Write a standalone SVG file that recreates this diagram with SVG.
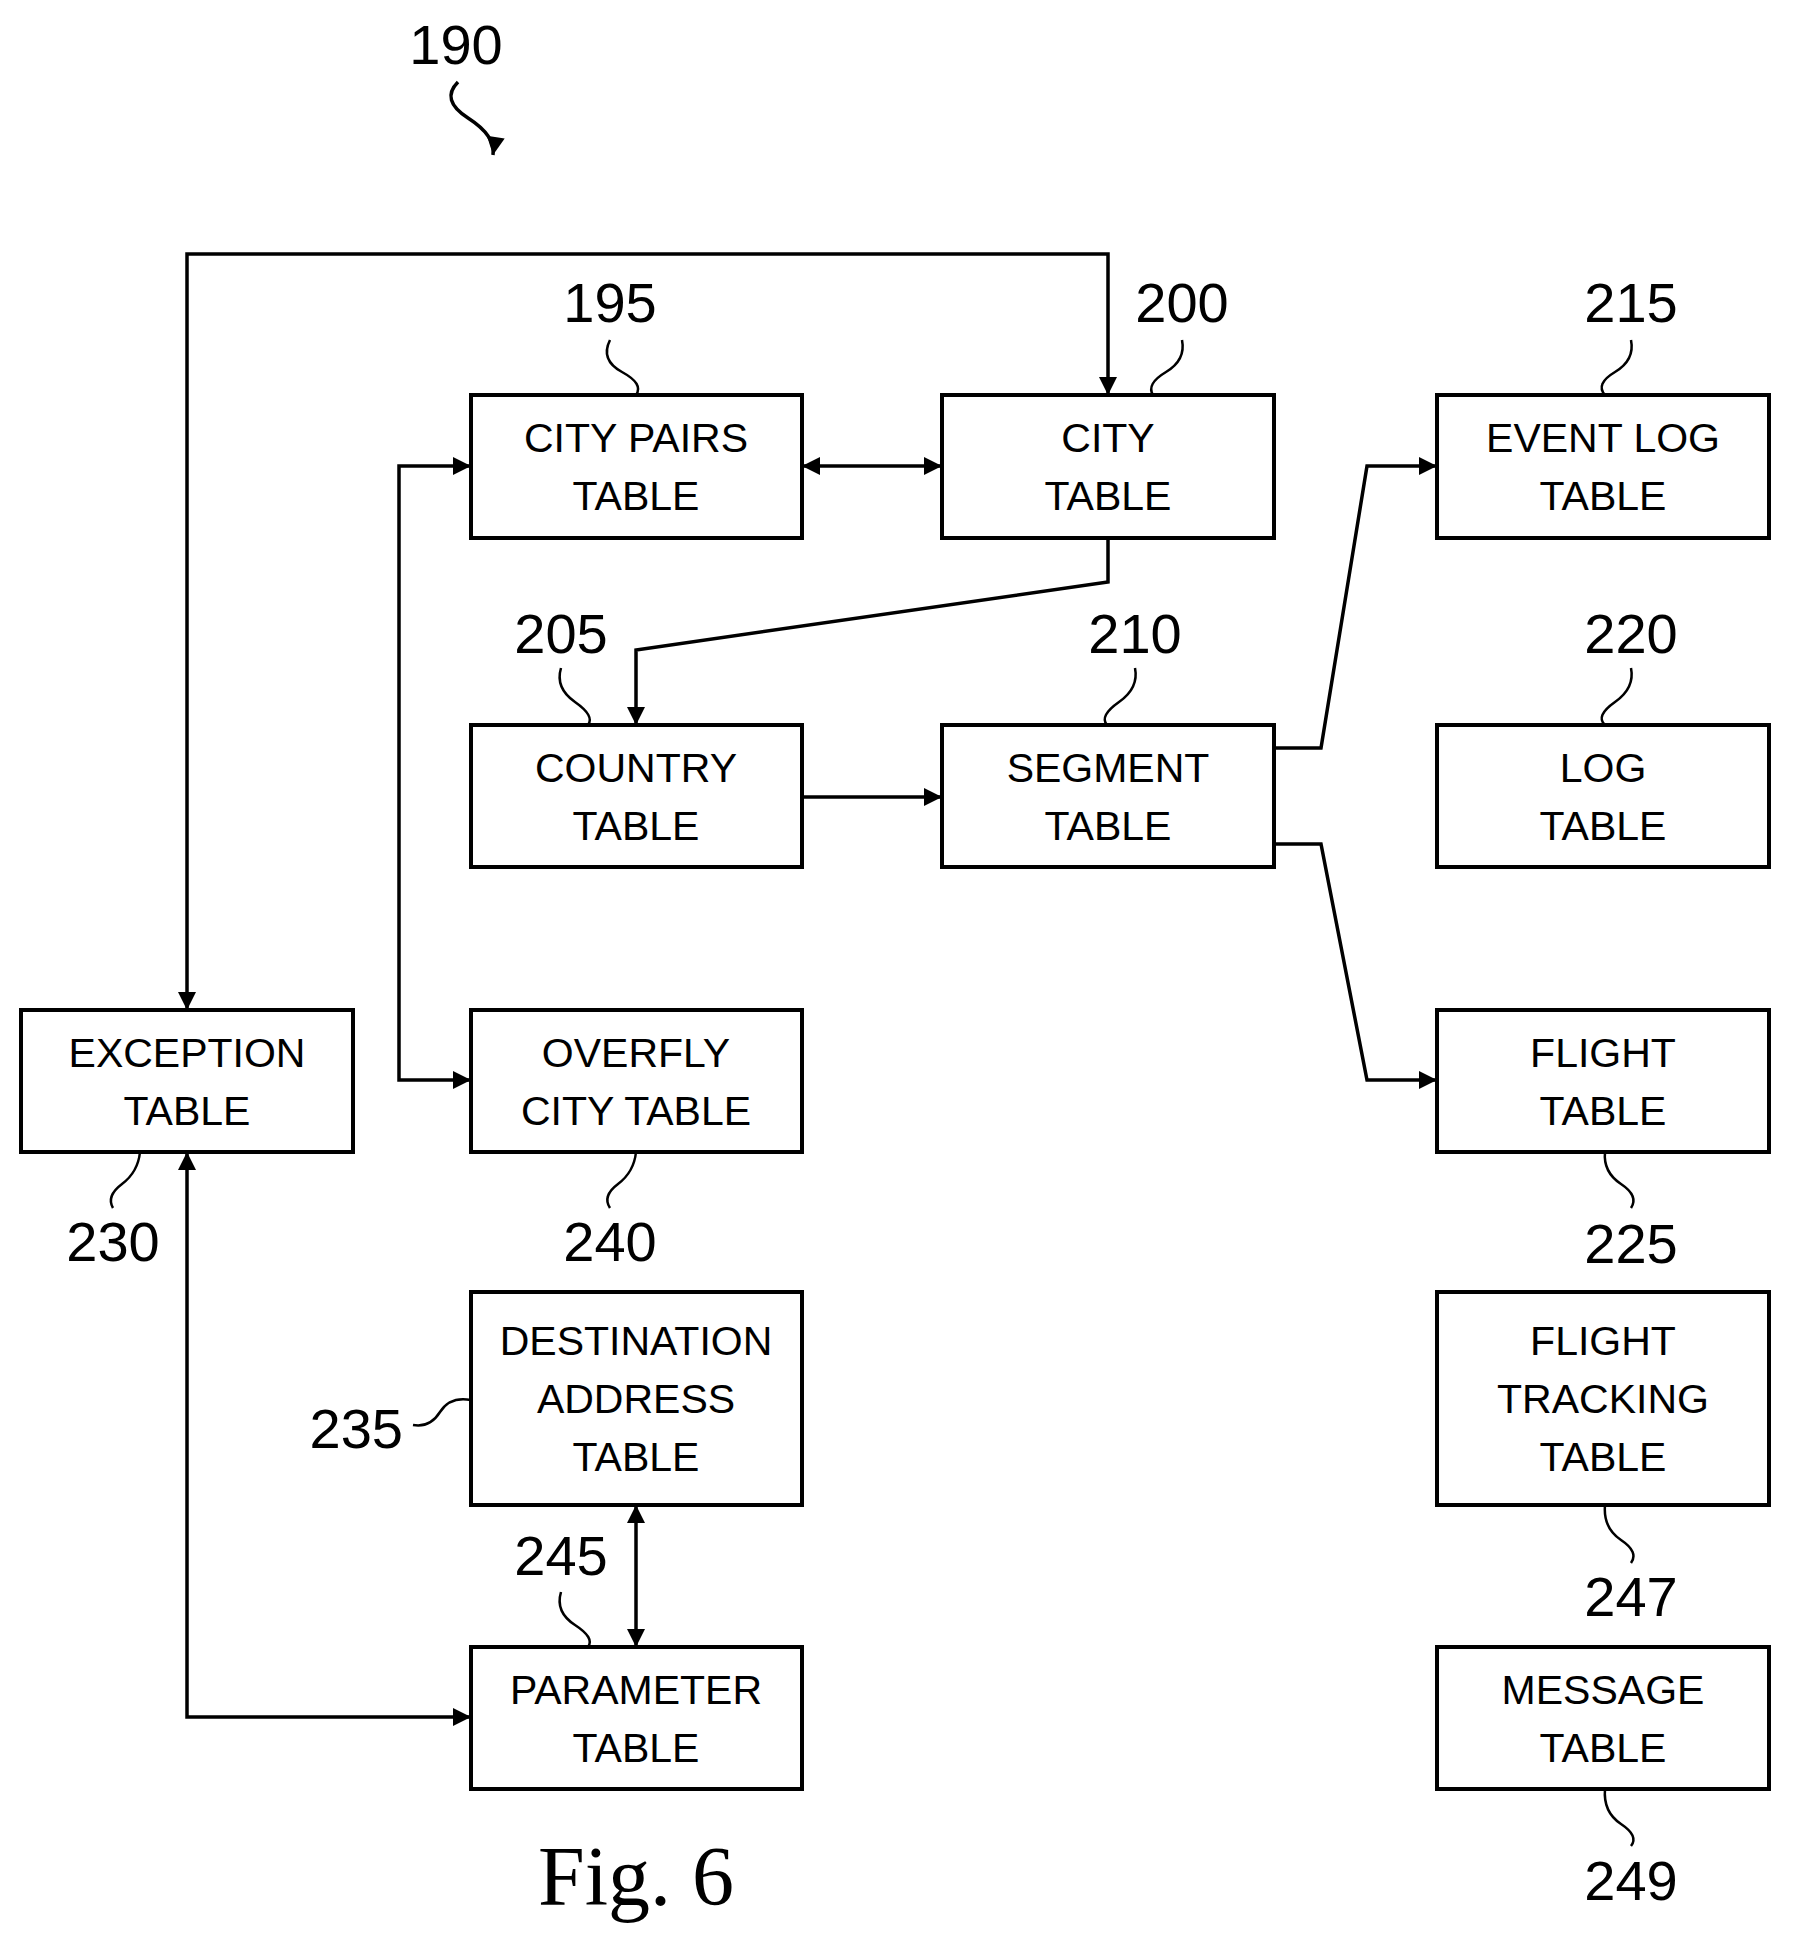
<svg xmlns="http://www.w3.org/2000/svg" width="1793" height="1944" viewBox="0 0 1793 1944">
<style>
.b{fill:#fff;stroke:#000;stroke-width:4}
.t{font-family:"Liberation Sans",Arial,sans-serif;font-size:41px;text-anchor:middle}
.n{font-family:"Liberation Sans",Arial,sans-serif;font-size:56px;text-anchor:middle}
.c{fill:none;stroke:#000;stroke-width:3.5}
.l{fill:none;stroke:#000;stroke-width:2.5}
</style>
<defs>
<marker id="a" viewBox="0 0 10 10" refX="10" refY="5" markerWidth="8" markerHeight="6" markerUnits="userSpaceOnUse" orient="auto-start-reverse">
<path d="M0,0L10,5L0,10z"/>
</marker>
<marker id="m" viewBox="0 0 10 10" refX="10" refY="5" markerWidth="28" markerHeight="18" markerUnits="userSpaceOnUse" orient="auto-start-reverse"><path d="M0,0L10,5L0,10z"/></marker>
</defs>
<rect width="1793" height="1944" fill="#fff"/>
<g id="connectors">
<path class="c" d="M187,1010V254H1108V395" marker-start="url(#m)" marker-end="url(#m)"/>
<path class="c" d="M802,466H942" marker-start="url(#m)" marker-end="url(#m)"/>
<path class="c" d="M1108,538V582L636,650V725" marker-end="url(#m)"/>
<path class="c" d="M802,797H942" marker-end="url(#m)"/>
<path class="c" d="M1274,748H1321L1367,466H1437" marker-end="url(#m)"/>
<path class="c" d="M1274,844H1321L1367,1080H1437" marker-end="url(#m)"/>
<path class="c" d="M471,466H399V1080H471" marker-start="url(#m)" marker-end="url(#m)"/>
<path class="c" d="M636,1505V1647" marker-start="url(#m)" marker-end="url(#m)"/>
<path class="c" d="M187,1152V1717H471" marker-start="url(#m)" marker-end="url(#m)"/>
<path class="c" d="M458,82Q440,100 468,118T493,155" marker-end="url(#m)"/>
</g>
<g id="leaders">
<path class="l" d="M610,340Q600,360 622,372T636,395"/>
<path class="l" d="M1182,340Q1186,360 1166,372T1153,395"/>
<path class="l" d="M1631,340Q1635,360 1615,372T1605,395"/>
<path class="l" d="M561,668Q555,688 575,702T588,725"/>
<path class="l" d="M1135,668Q1139,688 1119,702T1107,725"/>
<path class="l" d="M1631,668Q1635,688 1615,702T1605,725"/>
<path class="l" d="M140,1152Q138,1172 122,1184T113,1208"/>
<path class="l" d="M636,1152Q634,1172 618,1184T610,1208"/>
<path class="l" d="M1605,1152Q1603,1172 1621,1184T1631,1208"/>
<path class="l" d="M413,1425Q430,1428 440,1412T471,1400"/>
<path class="l" d="M561,1592Q555,1612 575,1625T588,1647"/>
<path class="l" d="M1605,1505Q1603,1528 1621,1540T1631,1563"/>
<path class="l" d="M1605,1789Q1603,1812 1621,1824T1631,1846"/>
</g>
<g id="labels">
<text class="n" x="456" y="64">190</text>
<text class="n" x="610" y="322">195</text>
<text class="n" x="1182" y="322">200</text>
<text class="n" x="1631" y="322">215</text>
<text class="n" x="561" y="653">205</text>
<text class="n" x="1135" y="653">210</text>
<text class="n" x="1631" y="653">220</text>
<text class="n" x="113" y="1261">230</text>
<text class="n" x="610" y="1261">240</text>
<text class="n" x="1631" y="1263">225</text>
<text class="n" x="403" y="1448" text-anchor="end" style="text-anchor:end">235</text>
<text class="n" x="561" y="1575">245</text>
<text class="n" x="1631" y="1616">247</text>
<text class="n" x="1631" y="1900">249</text>
<text x="636" y="1905" font-family="'Liberation Serif','Times New Roman',serif" font-size="84" text-anchor="middle">Fig. 6</text>
</g>
<g id="city-pairs"><rect class="b" x="471" y="395" width="331" height="143"/><text class="t" x="636" y="452">CITY PAIRS</text><text class="t" x="636" y="510">TABLE</text></g>
<g id="city"><rect class="b" x="942" y="395" width="332" height="143"/><text class="t" x="1108" y="452">CITY</text><text class="t" x="1108" y="510">TABLE</text></g>
<g id="event-log"><rect class="b" x="1437" y="395" width="332" height="143"/><text class="t" x="1603" y="452">EVENT LOG</text><text class="t" x="1603" y="510">TABLE</text></g>
<g id="country"><rect class="b" x="471" y="725" width="331" height="142"/><text class="t" x="636" y="782">COUNTRY</text><text class="t" x="636" y="840">TABLE</text></g>
<g id="segment"><rect class="b" x="942" y="725" width="332" height="142"/><text class="t" x="1108" y="782">SEGMENT</text><text class="t" x="1108" y="840">TABLE</text></g>
<g id="log"><rect class="b" x="1437" y="725" width="332" height="142"/><text class="t" x="1603" y="782">LOG</text><text class="t" x="1603" y="840">TABLE</text></g>
<g id="exception"><rect class="b" x="21" y="1010" width="332" height="142"/><text class="t" x="187" y="1067">EXCEPTION</text><text class="t" x="187" y="1125">TABLE</text></g>
<g id="overfly"><rect class="b" x="471" y="1010" width="331" height="142"/><text class="t" x="636" y="1067">OVERFLY</text><text class="t" x="636" y="1125">CITY TABLE</text></g>
<g id="flight"><rect class="b" x="1437" y="1010" width="332" height="142"/><text class="t" x="1603" y="1067">FLIGHT</text><text class="t" x="1603" y="1125">TABLE</text></g>
<g id="destination"><rect class="b" x="471" y="1292" width="331" height="213"/><text class="t" x="636" y="1355">DESTINATION</text><text class="t" x="636" y="1413">ADDRESS</text><text class="t" x="636" y="1471">TABLE</text></g>
<g id="flight-tracking"><rect class="b" x="1437" y="1292" width="332" height="213"/><text class="t" x="1603" y="1355">FLIGHT</text><text class="t" x="1603" y="1413">TRACKING</text><text class="t" x="1603" y="1471">TABLE</text></g>
<g id="parameter"><rect class="b" x="471" y="1647" width="331" height="142"/><text class="t" x="636" y="1704">PARAMETER</text><text class="t" x="636" y="1762">TABLE</text></g>
<g id="message"><rect class="b" x="1437" y="1647" width="332" height="142"/><text class="t" x="1603" y="1704">MESSAGE</text><text class="t" x="1603" y="1762">TABLE</text></g>
</svg>
